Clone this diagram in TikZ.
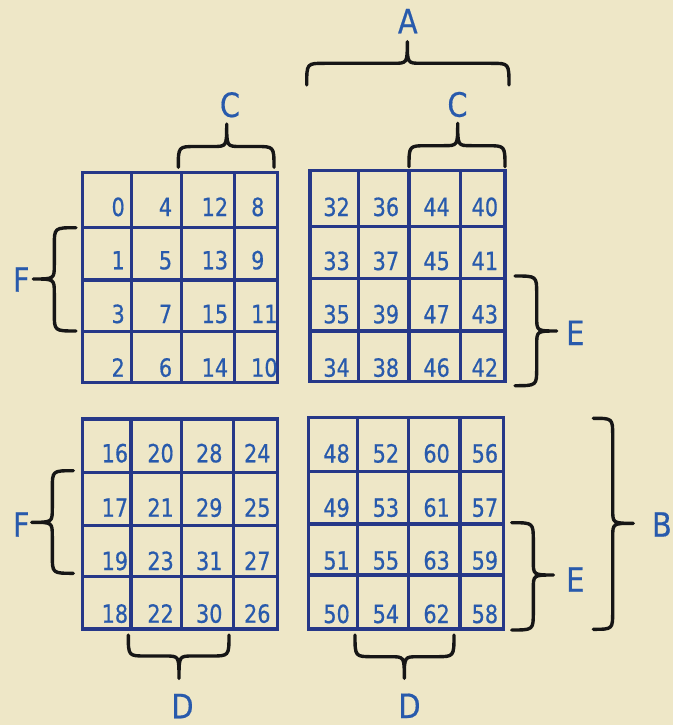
\documentclass[tikz,border=0pt]{standalone}
\usepackage{fontspec}
\newfontfamily\dvfont[FakeStretch=0.83,FakeBold=0.6]{DejaVu Sans}
\newfontfamily\lbfont[FakeStretch=0.86,FakeBold=0.5]{DejaVu Sans}
\definecolor{bg}{RGB}{238,231,199}
\definecolor{gridblue}{RGB}{38,56,136}
\definecolor{txtblue}{RGB}{40,90,172}
\definecolor{bracecol}{RGB}{22,22,22}
\tikzset{
  gridline/.style={draw=gridblue, line width=3.5pt},
  num/.style={text=txtblue, font=\dvfont\fontsize{25}{29}\selectfont, inner sep=0pt, anchor=base east},
  lbl/.style={text=txtblue, font=\lbfont\fontsize{33.5}{38}\selectfont, inner sep=0pt, anchor=base},
  bracestyle/.style={draw=bracecol, line width=3.4pt, line cap=round, line join=round},
}
% horizontal brace: x1, x2, yend, ybar, xtip, ytip
\newcommand\hbrace[6]{%
  \draw[bracestyle] (#1,#3) .. controls (#1,#4) .. ({#1+18},#4) -- ({#5-14},#4)
    .. controls (#5,#4) .. (#5,#6) .. controls (#5,#4) .. ({#5+14},#4)
    -- ({#2-18},#4) .. controls (#2,#4) .. (#2,#3);}
% vertical brace: y1, y2, xend, xbar, ytip, xtip
\newcommand\vbrace[6]{%
  \draw[bracestyle] (#3,#1) .. controls (#4,#1) .. (#4,{#1+18}) -- (#4,{#5-14})
    .. controls (#4,#5) .. (#6,#5) .. controls (#4,#5) .. (#4,{#5+14})
    -- (#4,{#2-18}) .. controls (#4,#2) .. (#3,#2);}
\begin{document}
\begin{tikzpicture}[x=1pt,y=-1pt]
\useasboundingbox (0,0) rectangle (673,725);
\fill[bg] (0,0) rectangle (673,725);

% ---------- top-left grid ----------
\draw[gridline] (82.7,172.3) rectangle (277.7,382.3);
\foreach \x in {131.7,181.7,234.3} \draw[gridline] (\x,172.3) -- (\x,382.3);
\foreach \y in {227.3,280,331.3} \draw[gridline] (82.7,\y) -- (277.7,\y);
\foreach \yb/\a/\b/\c/\d in {216/0/4/12/8, 269.3/1/5/13/9, 323/3/7/15/11, 376.7/2/6/14/10} {
  \node[num] (n\a) at (125,\yb) {\a};
  \node[num] (n\b) at (172.3,\yb) {\b};
  \node[num] (n\c) at (228.3,\yb) {\c};
  \node[num,anchor=base west] (n\d) at (251,\yb) {\d};
}

% ---------- top-right grid ----------
\draw[gridline] (310,170.7) rectangle (505,381.7);
\foreach \x in {358.3,409,460.7} \draw[gridline] (\x,170.7) -- (\x,381.7);
\foreach \y in {226.7,278.3,331} \draw[gridline] (310,\y) -- (505,\y);
\foreach \yb/\a/\b/\c/\d in {216/32/36/44/40, 270/33/37/45/41, 323.3/35/39/47/43, 376.7/34/38/46/42} {
  \node[num] (n\a) at (350,\yb) {\a};
  \node[num] (n\b) at (399.3,\yb) {\b};
  \node[num] (n\c) at (450,\yb) {\c};
  \node[num] (n\d) at (498.3,\yb) {\d};
}

% ---------- bottom-left grid ----------
\draw[gridline] (82.7,419) rectangle (277.7,629);
\foreach \x in {131,181.7,233.3} \draw[gridline] (\x,419) -- (\x,629);
\foreach \y in {472.3,525.7,576.7} \draw[gridline] (82.7,\y) -- (277.7,\y);
\foreach \yb/\a/\b/\c/\d in {462.3/16/20/28/24, 516.7/17/21/29/25, 570/19/23/31/27, 622.7/18/22/30/26} {
  \node[num] (n\a) at (128.3,\yb) {\a};
  \node[num] (n\b) at (174,\yb) {\b};
  \node[num] (n\c) at (222.7,\yb) {\c};
  \node[num] (n\d) at (270.7,\yb) {\d};
}

% ---------- bottom-right grid ----------
\draw[gridline] (308.3,417.3) rectangle (503.3,629);
\foreach \x in {357.7,408.3,460} \draw[gridline] (\x,417.3) -- (\x,629);
\foreach \y in {471.7,524,575} \draw[gridline] (308.3,\y) -- (503.3,\y);
\foreach \yb/\a/\b/\c/\d in {462.5/48/52/60/56, 516.7/49/53/61/57, 569.5/51/55/63/59, 623/50/54/62/58} {
  \node[num] (n\a) at (350,\yb) {\a};
  \node[num] (n\b) at (399.3,\yb) {\b};
  \node[num] (n\c) at (450,\yb) {\c};
  \node[num] (n\d) at (498.3,\yb) {\d};
}

% ---------- braces ----------
\hbrace{306.7}{509}{85}{63.3}{407.3}{41.7}      % A
\hbrace{178.3}{274}{167.3}{146.5}{226.7}{124}   % C left
\hbrace{409}{505}{166.7}{145.7}{457.7}{123.3}   % C right
\hbrace{128.3}{229}{635}{656}{179}{678.3}       % D left
\hbrace{355}{454}{635}{656.7}{404.3}{678.3}     % D right
\vbrace{227.7}{331}{76}{54.3}{279}{33.3}        % F top
\vbrace{470.7}{573.3}{73.3}{52.3}{522.3}{31.7}  % F bottom
\vbrace{276}{385.7}{515}{536.7}{331}{556.7}     % E top
\vbrace{522.7}{630}{511.7}{533.3}{575}{553.3}   % E bottom
\vbrace{418.3}{629.3}{593.3}{612.7}{523.3}{633.3} % B

% ---------- labels ----------
\node[lbl] (lA)  at (407.8,33.3) {A};
\node[lbl] (lC1) at (230,117) {C};
\node[lbl] (lC2) at (457.5,116.7) {C};
\node[lbl] (lF1) at (21.3,291.7) {F};
\node[lbl] (lF2) at (21.3,536.7) {F};
\node[lbl] (lE1) at (575.3,345) {E};
\node[lbl] (lE2) at (575.3,591.7) {E};
\node[lbl] (lD1) at (182.5,718.3) {D};
\node[lbl] (lD2) at (409.5,718) {D};
\node[lbl,anchor=base east] (lB) at (672,536.7) {B};
\end{tikzpicture}
\end{document}
